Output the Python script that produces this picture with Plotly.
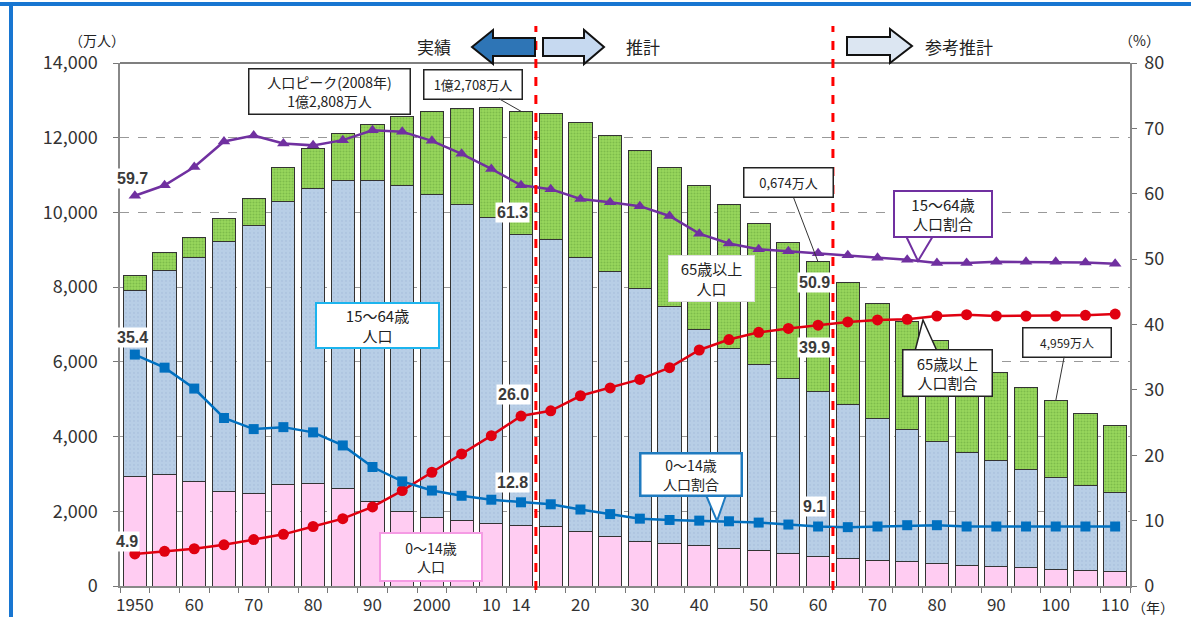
import plotly.graph_objects as go

# ---- data (万人 / %) ----
years = ["1950", "1955", "1960", "1965", "1970", "1975", "1980", "1985", "1990", "1995",
         "2000", "2005", "2010", "2014", "2015", "2020", "2025", "2030", "2035", "2040",
         "2045", "2050", "2055", "2060", "2065", "2070", "2075", "2080", "2085", "2090",
         "2095", "2100", "2105", "2110"]

pop_0_14 = [2943, 2980, 2807, 2517, 2482, 2722, 2751, 2603, 2249, 2001,
            1847, 1759, 1684, 1623, 1583, 1457, 1324, 1204, 1129, 1073,
            1012, 939, 861, 791, 735, 689, 658, 611, 557, 521,
            484, 451, 419, 390]
pop_15_64 = [4966, 5473, 6000, 6693, 7157, 7581, 7883, 8251, 8614, 8726,
             8638, 8442, 8173, 7785, 7682, 7341, 7085, 6773, 6343, 5787,
             5353, 5001, 4706, 4418, 4113, 3799, 3532, 3246, 3021, 2841,
             2638, 2460, 2280, 2114]
pop_65 = [411, 475, 535, 618, 733, 887, 1065, 1247, 1498, 1830,
          2208, 2576, 2949, 3300, 3395, 3612, 3657, 3685, 3741, 3868,
          3856, 3768, 3626, 3465, 3287, 3080, 2886, 2713, 2538, 2365,
          2197, 2048, 1906, 1782]

pct_0_14 = [35.4, 33.4, 30.2, 25.7, 24.0, 24.3, 23.5, 21.5, 18.2, 16.0,
            14.6, 13.8, 13.2, 12.8, 12.5, 11.7, 11.0, 10.3, 10.1, 10.0,
            9.9, 9.7, 9.4, 9.1, 9.0, 9.1, 9.3, 9.3, 9.1, 9.1,
            9.1, 9.1, 9.1, 9.1]
pct_15_64 = [59.7, 61.3, 64.1, 68.0, 68.9, 67.7, 67.4, 68.2, 69.7, 69.5,
             68.1, 66.1, 63.8, 61.3, 60.7, 59.2, 58.7, 58.1, 56.6, 53.9,
             52.4, 51.5, 51.2, 50.9, 50.6, 50.2, 49.9, 49.4, 49.4, 49.6,
             49.6, 49.6, 49.5, 49.3]
pct_65 = [4.9, 5.3, 5.7, 6.3, 7.1, 7.9, 9.1, 10.3, 12.1, 14.6,
          17.4, 20.2, 23.0, 26.0, 26.8, 29.1, 30.3, 31.6, 33.4, 36.1,
          37.7, 38.8, 39.4, 39.9, 40.4, 40.7, 40.8, 41.3, 41.5, 41.3,
          41.3, 41.3, 41.4, 41.6]

tick_labels = {"1950": "1950", "1960": "60", "1970": "70", "1980": "80", "1990": "90",
               "2000": "2000", "2010": "10", "2014": "14", "2020": "20", "2030": "30",
               "2040": "40", "2050": "50", "2060": "60", "2070": "70", "2080": "80",
               "2090": "90", "2100": "100", "2110": "110"}

JP = "Noto Sans CJK JP"
W, H = 1191, 617
PL, PR, PT, PB = 120, 1130, 63, 586


def fx(x):
    return (x - PL) / (PR - PL)


def fy(y):
    return (PB - y) / (PB - PT)


def path(points):
    pts = [f"{fx(x):.5f},{fy(y):.5f}" for x, y in points]
    return "M " + " L ".join(pts) + " Z"


fig = go.Figure()

# stacked population bars
bar_common = dict(x=years, width=0.78, yaxis="y", showlegend=False, hoverinfo="skip")
fig.add_trace(go.Bar(y=pop_0_14, name="0～14歳人口",
                     marker=dict(color="#FFCCF2", line=dict(color="#333333", width=1)),
                     **bar_common))
fig.add_trace(go.Bar(y=pop_15_64, name="15～64歳人口",
                     marker=dict(color="#B8CEE6", line=dict(color="#333333", width=1),
                                 pattern=dict(shape=".", fgcolor="#A3BCDB", size=4,
                                              solidity=0.25, fillmode="overlay")),
                     **bar_common))
fig.add_trace(go.Bar(y=pop_65, name="65歳以上人口",
                     marker=dict(color="#98D65C", line=dict(color="#333333", width=1),
                                 pattern=dict(shape=".", fgcolor="#62A23A", size=3,
                                              solidity=0.35, fillmode="overlay")),
                     **bar_common))

# ratio lines on the right axis
fig.add_trace(go.Scatter(x=years, y=pct_15_64, yaxis="y2", mode="lines+markers",
                         line=dict(color="#7030A0", width=2.5),
                         marker=dict(symbol="triangle-up", size=11, color="#7030A0"),
                         showlegend=False, hoverinfo="skip"))
fig.add_trace(go.Scatter(x=years, y=pct_65, yaxis="y2", mode="lines+markers",
                         line=dict(color="#E00010", width=2.5),
                         marker=dict(symbol="circle", size=11, color="#E00010"),
                         showlegend=False, hoverinfo="skip"))
fig.add_trace(go.Scatter(x=years, y=pct_0_14, yaxis="y2", mode="lines+markers",
                         line=dict(color="#0070C0", width=2.5),
                         marker=dict(symbol="square", size=10, color="#0070C0"),
                         showlegend=False, hoverinfo="skip"))

shapes = []
# outer blue frame (top and left edges)
shapes.append(dict(type="line", xref="paper", yref="paper", x0=fx(0), x1=fx(W), y0=fy(4), y1=fy(4),
                   line=dict(color="#1876D1", width=4)))
shapes.append(dict(type="line", xref="paper", yref="paper", x0=fx(11), x1=fx(11), y0=fy(3), y1=fy(H),
                   line=dict(color="#1876D1", width=4)))
# top frame of plot area
shapes.append(dict(type="line", xref="paper", yref="paper", x0=0, x1=1, y0=1, y1=1,
                   line=dict(color="#555555", width=1.5)))
# boundaries between actual / projection / reference projection
for xb in (13.5, 23.5):
    shapes.append(dict(type="line", xref="x", yref="paper", x0=xb, x1=xb, y0=fy(590), y1=fy(26),
                       line=dict(color="#FF0000", width=3, dash="dash"), layer="above"))
# period arrows
shapes.append(dict(type="path", xref="paper", yref="paper", layer="above",
                   path=path([(472, 47), (493, 30), (493, 38), (535, 38), (535, 56), (493, 56), (493, 64)]),
                   fillcolor="#2E75B6", line=dict(color="#111111", width=2)))
shapes.append(dict(type="path", xref="paper", yref="paper", layer="above",
                   path=path([(543, 38), (584, 38), (584, 30), (604, 47), (584, 64), (584, 56), (543, 56)]),
                   fillcolor="#C6D9F0", line=dict(color="#111111", width=2)))
shapes.append(dict(type="path", xref="paper", yref="paper", layer="above",
                   path=path([(847, 37), (890, 37), (890, 29), (912, 46), (890, 63), (890, 55), (847, 55)]),
                   fillcolor="#DCE6F2", line=dict(color="#111111", width=2)))
# callout pointers
shapes.append(dict(type="path", xref="paper", yref="paper", layer="above",
                   path=path([(906, 236), (918, 261), (933, 236)]),
                   fillcolor="white", line=dict(color="#7030A0", width=2)))
shapes.append(dict(type="path", xref="paper", yref="paper", layer="above",
                   path=path([(915, 351), (923, 320), (937, 351)]),
                   fillcolor="white", line=dict(color="#222222", width=1.5)))
shapes.append(dict(type="path", xref="paper", yref="paper", layer="above",
                   path=path([(706, 495), (717, 521), (726, 495)]),
                   fillcolor="white", line=dict(color="#1F7BC0", width=2)))

annotations = []


def text_at(x, y, text, size=15, color="#222222", family=JP):
    annotations.append(dict(xref="paper", yref="paper", x=fx(x), y=fy(y), text=text,
                            showarrow=False, xanchor="center", yanchor="middle",
                            font=dict(family=family, size=size, color=color)))


def box_at(x0, y0, x1, y1, text, border, bw=1.5, size=14):
    annotations.append(dict(xref="paper", yref="paper", x=fx((x0 + x1) / 2), y=fy((y0 + y1) / 2),
                            text=text, showarrow=False, xanchor="center", yanchor="middle",
                            width=x1 - x0 - 2 * bw, height=y1 - y0 - 2 * bw, borderpad=0,
                            bgcolor="white", bordercolor=border, borderwidth=bw, align="center",
                            font=dict(family=JP, size=size, color="#222222")))


def callout(idx, value, cx, cy, text, w, h, size=13):
    # box centre given in pixels; arrow runs to the top of the bar at category idx
    px_x = PL + (idx + 0.5) * (PR - PL) / len(years)
    px_y = PB - value / 14000 * (PB - PT)
    annotations.append(dict(xref="x", yref="y", x=idx, y=value, text=text,
                            showarrow=True, arrowhead=0, arrowwidth=1, arrowcolor="#333333",
                            ax=cx - px_x, ay=cy - px_y, width=w, height=h, borderpad=0,
                            bgcolor="white", bordercolor="#222222", borderwidth=1.5,
                            font=dict(family=JP, size=size, color="#222222")))


def value_label(idx, series, dx, dy):
    annotations.append(dict(xref="x", yref="y2", x=idx, y=series[idx],
                            text=f"{series[idx]:.1f}", showarrow=False,
                            xshift=dx, yshift=dy, bgcolor="white", borderpad=1,
                            font=dict(family="Liberation Sans", size=16, color="#3a3a3a",
                                      weight="bold")))


# axis unit captions
text_at(97, 40, "（万人）", size=14)
text_at(1139, 40, "（%）", size=14)
text_at(1153, 607, "（年）", size=14)

# period captions
text_at(434, 46, "実績", size=17)
text_at(643, 46, "推計", size=17)
text_at(959, 46, "参考推計", size=17)

# labelled boxes
box_at(248, 68, 411, 115, "人口ピーク(2008年)<br>1億2,808万人", "#222222", size=14)
box_at(315, 302, 440, 349, "15～64歳<br>人口", "#1CB4EE", bw=2, size=15)
box_at(668, 255, 755, 302, "65歳以上<br>人口", "#DDDDDD", bw=1, size=15)
box_at(379, 532, 483, 582, "0～14歳<br>人口", "#F59BE4", bw=2, size=14)
box_at(893, 190, 993, 238, "15～64歳<br>人口割合", "#7030A0", bw=2, size=15)
box_at(902, 349, 993, 397, "65歳以上<br>人口割合", "#222222", bw=1.5, size=15)
box_at(639, 452, 743, 497, "0～14歳<br>人口割合", "#1F7BC0", bw=2.5, size=14)

# bar total callouts
i2014 = years.index("2014")
i2060 = years.index("2060")
i2100 = years.index("2100")
callout(i2014, pop_0_14[i2014] + pop_15_64[i2014] + pop_65[i2014], 473, 84, "1億2,708万人", 97, 28)
callout(i2060, pop_0_14[i2060] + pop_15_64[i2060] + pop_65[i2060], 788, 183, "0,674万人", 88, 28)
callout(i2100, pop_0_14[i2100] + pop_15_64[i2100] + pop_65[i2100], 1067, 342, "4,959万人", 87, 28, size=12)

# ratio value labels
value_label(0, pct_15_64, -2, 17)
value_label(0, pct_0_14, -2, 17)
value_label(0, pct_65, -8, 12)
value_label(i2014, pct_15_64, -9, -27)
value_label(i2014, pct_65, -8, 22)
value_label(i2014, pct_0_14, -9, 20)
value_label(i2060, pct_15_64, -4, -29)
value_label(i2060, pct_65, -4, -22)
value_label(i2060, pct_0_14, -4, 20)

fig.update_layout(
    width=W, height=H,
    margin=dict(l=PL, r=W - PR, t=PT, b=H - PB, pad=0, autoexpand=False),
    paper_bgcolor="white", plot_bgcolor="white",
    barmode="stack", bargap=0.22,
    showlegend=False,
    xaxis=dict(type="category", categoryorder="array", categoryarray=years,
               tickmode="array", tickvals=years,
               ticktext=[tick_labels.get(y, "") for y in years],
               tickson="boundaries", ticks="outside", ticklen=5, tickcolor="#777777",
               ticklabelstandoff=3, automargin=False,
               showline=True, linecolor="#888888", linewidth=1.5,
               showgrid=False, tickangle=0,
               tickfont=dict(family=JP, size=17, color="#333333"),
               range=[-0.5, len(years) - 0.5]),
    yaxis=dict(range=[0, 14000], tickvals=list(range(0, 14001, 2000)), tickformat=",",
               ticks="outside", ticklen=5, tickcolor="#777777", ticklabelstandoff=12,
               automargin=False,
               showline=True, linecolor="#888888", linewidth=1.5,
               showgrid=True, gridcolor="#999999", gridwidth=1, griddash="dash",
               zeroline=False, tickfont=dict(family=JP, size=18, color="#333333")),
    yaxis2=dict(range=[0, 80], tickvals=list(range(0, 81, 10)), overlaying="y", side="right",
                ticks="outside", ticklen=5, tickcolor="#777777", ticklabelstandoff=4,
                automargin=False,
                showline=True, linecolor="#888888", linewidth=1.5,
                showgrid=False, zeroline=False,
                tickfont=dict(family=JP, size=18, color="#333333")),
    shapes=shapes,
    annotations=annotations,
)

fig.write_html("out.html")
